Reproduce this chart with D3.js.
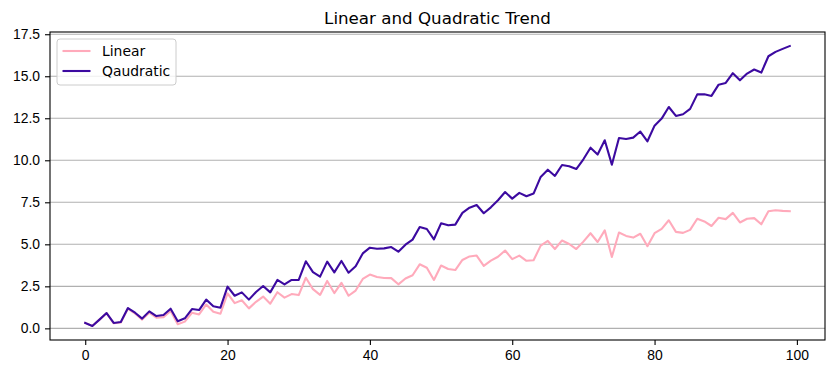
<!DOCTYPE html>
<html>
<head>
<meta charset="utf-8">
<script src="https://cdn.jsdelivr.net/npm/d3@7"></script>
<style>
  body { margin: 0; background: #fff; }
  svg { font-family: "DejaVu Sans", sans-serif; }
</style>
</head>
<body>
<svg id="canvas"></svg>
<script>
// values, x = 0..99
var linearValues = [0.32, 0.14, 0.52, 0.9, 0.3, 0.35, 1.17, 0.88, 0.52, 0.93,
    0.63, 0.67, 1.03, 0.25, 0.4, 0.93, 0.83, 1.42, 0.99, 0.87,
    2.08, 1.5, 1.67, 1.19, 1.58, 1.89, 1.47, 2.15, 1.83, 2.04,
    1.98, 3.01, 2.33, 1.99, 2.82, 2.1, 2.71, 1.94, 2.25, 2.94,
    3.2, 3.06, 3.0, 2.99, 2.62, 2.97, 3.16, 3.81, 3.61, 2.88,
    3.74, 3.53, 3.47, 4.07, 4.28, 4.33, 3.72, 4.03, 4.26, 4.63,
    4.12, 4.33, 4.02, 4.05, 4.92, 5.2, 4.72, 5.23, 5.02, 4.72,
    5.16, 5.66, 5.14, 5.83, 4.25, 5.7, 5.5, 5.4, 5.63, 4.89,
    5.66, 5.92, 6.43, 5.74, 5.68, 5.86, 6.52, 6.36, 6.09, 6.58,
    6.5, 6.87, 6.3, 6.52, 6.56, 6.19, 6.97, 7.03, 6.99, 6.97];

var quadraticValues = [0.32, 0.14, 0.52, 0.91, 0.32, 0.38, 1.21, 0.93, 0.58, 1.01,
    0.73, 0.79, 1.17, 0.42, 0.6, 1.15, 1.09, 1.71, 1.31, 1.23,
    2.48, 1.94, 2.14, 1.71, 2.16, 2.52, 2.14, 2.88, 2.62, 2.88,
    2.88, 3.99, 3.35, 3.08, 3.97, 3.33, 4.01, 3.31, 3.69, 4.46,
    4.8, 4.74, 4.76, 4.84, 4.56, 4.98, 5.28, 6.03, 5.91, 5.3,
    6.25, 6.13, 6.17, 6.87, 7.18, 7.34, 6.85, 7.2, 7.62, 8.11,
    7.72, 8.06, 7.86, 8.02, 9.01, 9.44, 9.07, 9.72, 9.65, 9.48,
    10.06, 10.75, 10.34, 11.19, 9.74, 11.33, 11.27, 11.35, 11.71, 11.13,
    12.06, 12.48, 13.17, 12.64, 12.74, 13.06, 13.92, 13.93, 13.83, 14.5,
    14.6, 15.18, 14.76, 15.16, 15.4, 15.22, 16.19, 16.45, 16.63, 16.8];

var seriesNames = ["Linear", "Qaudratic"];
var seriesColors = ["#ffaabb", "#3c0aa0"];
var xTicks = [0, 20, 40, 60, 80, 100];
var yTicks = [0, 2.5, 5, 7.5, 10, 12.5, 15, 17.5];

var width = 835, height = 374;
var margin = {top: 32, right: 10, bottom: 34, left: 50};
var plotW = width - margin.left - margin.right,
    plotH = height - margin.top - margin.bottom;

var series = [linearValues, quadraticValues];
var n = linearValues.length;

// matplotlib style 5% margins
var xPad = (n - 1) * 0.05;
var all = linearValues.concat(quadraticValues);
var yMin = d3.min(all), yMax = d3.max(all);
var yPad = (yMax - yMin) * 0.05;

var x = d3.scaleLinear().domain([-xPad, n - 1 + xPad]).range([0, plotW]);
var y = d3.scaleLinear().domain([yMin - yPad, yMax + yPad]).range([plotH, 0]);

var svg = d3.select("#canvas")
    .attr("width", width)
    .attr("height", height);

var g = svg.append("g")
    .attr("transform", "translate(" + margin.left + "," + margin.top + ")");

// horizontal grid
g.append("g")
    .selectAll("line")
    .data(yTicks)
    .enter()
    .append("line")
    .attr("x1", 0)
    .attr("x2", plotW)
    .attr("y1", function(d) { return y(d); })
    .attr("y2", function(d) { return y(d); })
    .attr("stroke", "#b0b0b0")
    .attr("stroke-width", 1.1);

var xAxis = d3.axisBottom(x).tickValues(xTicks).tickSize(5).tickPadding(5)
    .tickFormat(d3.format("d"));
var yAxis = d3.axisLeft(y).tickValues(yTicks).tickSize(5).tickPadding(5)
    .tickFormat(d3.format(".1f"));

g.append("g")
    .attr("transform", "translate(0," + plotH + ")")
    .call(xAxis)
    .call(function(a) { a.select(".domain").remove(); })
    .selectAll("text")
    .style("font-size", "13.9px")
    .attr("fill", "#000");

g.append("g")
    .call(yAxis)
    .call(function(a) { a.select(".domain").remove(); })
    .selectAll("text")
    .style("font-size", "13.9px")
    .attr("fill", "#000");

g.selectAll(".tick line").attr("stroke", "#000").attr("stroke-width", 1.1);

// lines
var line = d3.line()
    .x(function(d, i) { return x(i); })
    .y(function(d) { return y(d); });

series.forEach(function(values, k) {
    g.append("path")
        .datum(values)
        .attr("fill", "none")
        .attr("stroke", seriesColors[k])
        .attr("stroke-width", 2.1)
        .attr("stroke-linejoin", "round")
        .attr("stroke-linecap", "square")
        .attr("d", line);
});

// frame
g.append("rect")
    .attr("width", plotW)
    .attr("height", plotH)
    .attr("fill", "none")
    .attr("stroke", "#000")
    .attr("stroke-width", 1.1);

// title
svg.append("text")
    .attr("x", margin.left + plotW / 2)
    .attr("y", margin.top - 8)
    .attr("text-anchor", "middle")
    .style("font-size", "16.7px")
    .text("Linear and Quadratic Trend");

// legend
var legend = g.append("g").attr("transform", "translate(7,7)");
legend.append("rect")
    .attr("width", 119)
    .attr("height", 46)
    .attr("rx", 3)
    .attr("fill", "#fff")
    .attr("fill-opacity", 0.8)
    .attr("stroke", "#cccccc")
    .attr("stroke-width", 1);

var i;
for (i = 0; i < seriesNames.length; i++) {
    legend.append("line")
        .attr("x1", 5.5)
        .attr("x2", 33.5)
        .attr("y1", 12 + i * 20)
        .attr("y2", 12 + i * 20)
        .attr("stroke", seriesColors[i])
        .attr("stroke-width", 2.1);
    legend.append("text")
        .attr("x", 45)
        .attr("y", 12 + i * 20)
        .attr("dy", "0.35em")
        .style("font-size", "13.9px")
        .text(seriesNames[i]);
}
</script>
</body>
</html>
